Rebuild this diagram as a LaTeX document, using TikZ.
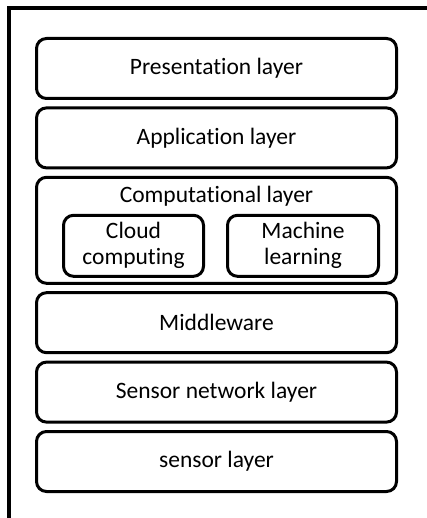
\documentclass[tikz,border=0pt]{standalone}
\usepackage{fontspec}
\setmainfont[Ligatures=NoCommon]{Carlito}
\usetikzlibrary{
  positioning, % for stacking the layers
}
\tikzset{
  layer/.style={ % style for each layer of the stack
    rectangle,draw,rounded corners=10pt, % rounded box
    line width=3pt, % heavy border
    minimum width=360pt,
    minimum height=60pt,
    font=\fontsize{23.5}{26}\selectfont,
  },
  sublayer/.style={ % style for the boxes inside the computational layer
    layer,
    minimum height=61pt,
    align=center,
  },
}
\begin{document}
\begin{tikzpicture}[x=1pt, y=-1pt, node distance=6.4pt]
	\useasboundingbox (0,0) rectangle (426,518);
	
	% outer frame, only its top and left edges are in view
	\draw[line width=3.5pt] (9,520) -- (9,8) -- (430,8);
	
	\node (pres) [layer] at (216.5,68.5) {Presentation layer};
	
	\node (app) [layer, below=of pres] {Application layer};
	
	\node (comp) [layer, minimum height=106pt, below=of app] {};
	
	\node (compname) [font=\fontsize{23.5}{26}\selectfont] at ([yshift=-20pt]comp.north) {Computational layer};
	
	\node (cloud) [sublayer, minimum width=140pt] at ([xshift=-83pt, yshift=-15.5pt]comp.center) {Cloud\\computing};
	
	\node (ml) [sublayer, minimum width=151pt] at ([xshift=86.5pt, yshift=-15.5pt]comp.center) {Machine\\learning};
	
	\node (mid) [layer, below=of comp] {Middleware};
	
	\node (net) [layer, below=of mid] {Sensor network layer};
	
	\node (sens) [layer, below=of net] {sensor layer};
\end{tikzpicture}
\end{document}
